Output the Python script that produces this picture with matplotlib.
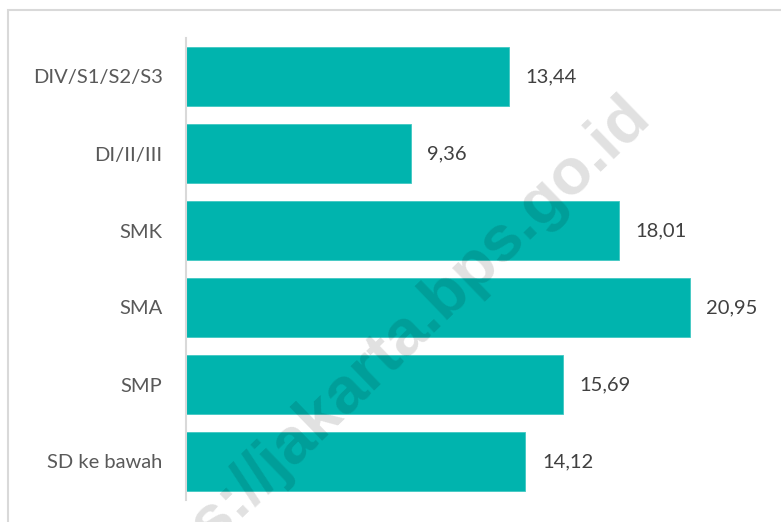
import matplotlib
matplotlib.use('Agg')
import matplotlib.pyplot as plt
from matplotlib.patches import Rectangle

# data (top to bottom in the picture)
categories = ['DIV/S1/S2/S3', 'DI/II/III', 'SMK', 'SMA', 'SMP', 'SD ke bawah']
values = [13.44, 9.36, 18.01, 20.95, 15.69, 14.12]

W, H = 781, 522
fig = plt.figure(figsize=(W / 100, H / 100), dpi=100)
plt.rcParams['font.family'] = ['Lato', 'DejaVu Sans']

# outer chart border (cut off at right and bottom)
fig.patches.append(Rectangle((8 / W, -0.05), 1.1, 1 - 10 / H + 0.05,
                             transform=fig.transFigure, fill=False,
                             edgecolor='#d9d9d9', linewidth=1.5))

ax = fig.add_axes([185.5 / W, 1 - 500 / H, (770 - 185.5) / W, (500 - 38) / H])
ypos = list(range(len(categories)))
ax.barh(ypos, values, height=0.77, color='#00B4AE', edgecolor='#40C8C2', linewidth=0.6)
ax.set_ylim(len(categories) - 0.5, -0.5)
ax.set_xlim(0, (770 - 185.5) / 24.07)

for y, v in zip(ypos, values):
    ax.annotate(f'{v:.2f}'.replace('.', ','), (v, y), xytext=(12, 0),
                textcoords='offset points', va='center', ha='left',
                fontsize=14.5, color='#404040')

ax.set_yticks(ypos)
ax.set_yticklabels(categories, fontsize=14.5, color='#595959')
ax.tick_params(axis='y', length=0, pad=16.5)
ax.set_xticks([])
for s in ['top', 'right', 'bottom']:
    ax.spines[s].set_visible(False)
ax.spines['left'].set_color('#d9d9d9')
ax.spines['left'].set_linewidth(1.5)

# watermark
fig.text(652 / W, 1 - 118 / H, 'https://jakarta.bps.go.id', rotation=44,
         rotation_mode='anchor', ha='right', va='baseline', fontsize=47,
         fontweight='bold', family='Liberation Sans', color='black', alpha=0.12,
         zorder=10)

fig.savefig('out.png', dpi=100)
